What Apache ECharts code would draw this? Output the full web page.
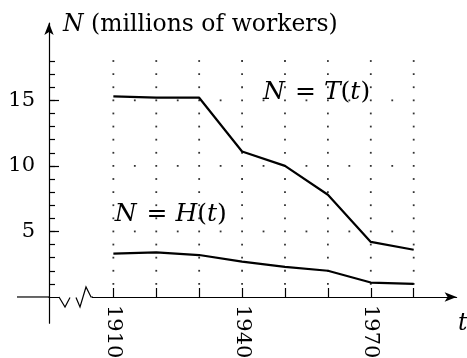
<!DOCTYPE html>
<html>
<head>
<meta charset="utf-8">
<script src="https://cdn.jsdelivr.net/npm/echarts@6/dist/echarts.min.js"></script>
<style>
  html, body { margin: 0; padding: 0; background: #fff; }
  #chart { width: 467px; height: 358px; }
</style>
</head>
<body>
<div id="chart"></div>
<script>
// Employment in agriculture: total workers T(t) and hired workers H(t), millions
const years = [1910, 1920, 1930, 1940, 1950, 1960, 1970, 1980];
const totalWorkers = [15.3, 15.2, 15.2, 11.1, 10.0, 7.8, 4.2, 3.6];
const hiredWorkers = [3.3, 3.4, 3.2, 2.7, 2.3, 2.0, 1.1, 1.0];

// Axis ticks and labels
const xTickYears = [1910, 1920, 1930, 1940, 1950, 1960, 1970, 1980];
const xLabelYears = [1910, 1940, 1970];
const yMajorTicks = [5, 10, 15];
const yMinorTicks = [1, 2, 3, 4, 5, 6, 7, 8, 9, 10, 11, 12, 13, 14, 15, 16, 17, 18];
const yGridRows = [5, 10, 15];
const xGridHalfSteps = [1915, 1925, 1935, 1945, 1955, 1965, 1975];

const FONT = 'DejaVu Serif';
const FS = 23.5;
const CURVE_FS = 25;
const TICK_FS = 21;

// Dotted background grid: columns at every decade, rows at 5, 10, 15
const gridDots = [];
xTickYears.forEach(x => yMinorTicks.forEach(y => gridDots.push([x, y])));
yGridRows.forEach(y => xGridHalfSteps.forEach(x => gridDots.push([x, y])));

const X_MIN = 1895, X_MAX = 1990, Y_MIN = -2, Y_MAX = 20.9;

const chart = echarts.init(document.getElementById('chart'), null, { renderer: 'canvas' });

const axisLineStyle = { color: '#000', width: 1.2 };

chart.setOption({
  animation: false,
  backgroundColor: '#fff',
  grid: { left: 49, right: 10.4, top: 23, bottom: 34.8, outerBoundsMode: 'none', containLabel: false },
  xAxis: {
    type: 'value', min: X_MIN, max: X_MAX,
    axisLine: { onZero: true, lineStyle: axisLineStyle, symbol: ['none', 'arrow'], symbolSize: [7, 12] },
    axisTick: { show: true, inside: true, length: 9, customValues: xTickYears, lineStyle: { color: '#000', width: 1.2 } },
    // year labels are drawn below as rotated text
    axisLabel: { show: false },
    splitLine: { show: false }
  },
  yAxis: [
    {
      type: 'value', min: Y_MIN, max: Y_MAX,
      axisLine: { show: true, lineStyle: axisLineStyle, symbol: ['none', 'arrow'], symbolSize: [7, 12] },
      axisTick: { show: true, inside: true, length: 10, customValues: yMajorTicks, lineStyle: { color: '#000', width: 1.2 } },
      axisLabel: { customValues: yMajorTicks, margin: 14, color: '#000', fontFamily: FONT, fontSize: TICK_FS },
      splitLine: { show: false }
    },
    {
      type: 'value', min: Y_MIN, max: Y_MAX, position: 'left', offset: 0,
      axisLine: { show: false },
      axisTick: { show: true, inside: true, length: 6, customValues: yMinorTicks, lineStyle: { color: '#000', width: 1.2 } },
      axisLabel: { show: false },
      splitLine: { show: false }
    }
  ],
  series: [
    {
      name: 'grid', type: 'scatter', silent: true, z: 1,
      symbol: 'rect', symbolSize: 1.8,
      itemStyle: { color: '#000' },
      data: gridDots
    },
    {
      name: 'T(t)', type: 'line', z: 3, symbol: 'none',
      lineStyle: { color: '#000', width: 2.2 },
      data: years.map((y, i) => [y, totalWorkers[i]])
    },
    {
      name: 'H(t)', type: 'line', z: 3, symbol: 'none',
      lineStyle: { color: '#000', width: 2.2 },
      data: years.map((y, i) => [y, hiredWorkers[i]])
    }
  ]
});

// Axis decorations and annotations placed from the chart's own coordinate system
const origin = chart.convertToPixel({ gridIndex: 0 }, [X_MIN, 0]);
const ox = origin[0], oy = origin[1];

function styles(size) {
  return {
    i: { fontStyle: 'italic', fontFamily: FONT, fontSize: size, fill: '#000' },
    r: { fontFamily: FONT, fontSize: size, fill: '#000' },
    e: { fontFamily: FONT, fontSize: size, fill: '#000', padding: [0, 8, 0, 10] }
  };
}

const tLabelPos = chart.convertToPixel({ gridIndex: 0 }, [1944.9, 15.6]);
const hLabelPos = chart.convertToPixel({ gridIndex: 0 }, [1910.3, 6.3]);

function mathText(x, y, parts, size) {
  return {
    type: 'text', x: x, y: y, z: 10,
    style: {
      text: parts.map(p => '{' + p[1] + '|' + p[0] + '}').join(''),
      rich: styles(size),
      verticalAlign: 'middle', align: 'left'
    }
  };
}

// Rotated year labels, reading downward from the axis
const yearLabels = xLabelYears.map(yr => {
  const p = chart.convertToPixel({ gridIndex: 0 }, [yr, 0]);
  return {
    type: 'text', x: p[0], y: p[1] + 8, rotation: -Math.PI / 2, z: 10,
    style: {
      text: String(yr), fontFamily: FONT, fontSize: TICK_FS, fill: '#000',
      align: 'left', verticalAlign: 'middle'
    }
  };
});

chart.setOption({
  graphic: [
    // x axis continues left of the y axis
    { type: 'line', z: 10, shape: { x1: ox - 32, y1: oy, x2: ox, y2: oy }, style: { stroke: '#000', lineWidth: 1.2 } },
    // axis break
    { type: 'rect', z: 10, shape: { x: ox + 10, y: oy - 3, width: 33, height: 6 }, style: { fill: '#fff' } },
    {
      type: 'polyline', z: 11,
      shape: { points: [[ox + 10, oy], [ox + 16, oy + 10], [ox + 21, oy + 0.5]] },
      style: { stroke: '#000', lineWidth: 1.2, fill: null }
    },
    {
      type: 'polyline', z: 11,
      shape: { points: [[ox + 27, oy + 0.5], [ox + 31, oy + 10], [ox + 37, oy - 10], [ox + 42, oy], [ox + 44, oy]] },
      style: { stroke: '#000', lineWidth: 1.2, fill: null }
    },
    // axis titles
    mathText(ox + 14, 25, [['N', 'i'], [' (millions of workers)', 'r']], FS),
    mathText(458, 324, [['t', 'i']], FS),
    // curve names
    mathText(tLabelPos[0], tLabelPos[1], [['N', 'i'], ['=', 'e'], ['T', 'i'], ['(', 'r'], ['t', 'i'], [')', 'r']], CURVE_FS),
    mathText(hLabelPos[0], hLabelPos[1], [['N', 'i'], ['=', 'e'], ['H', 'i'], ['(', 'r'], ['t', 'i'], [')', 'r']], CURVE_FS)
  ].concat(yearLabels)
});
</script>
</body>
</html>
